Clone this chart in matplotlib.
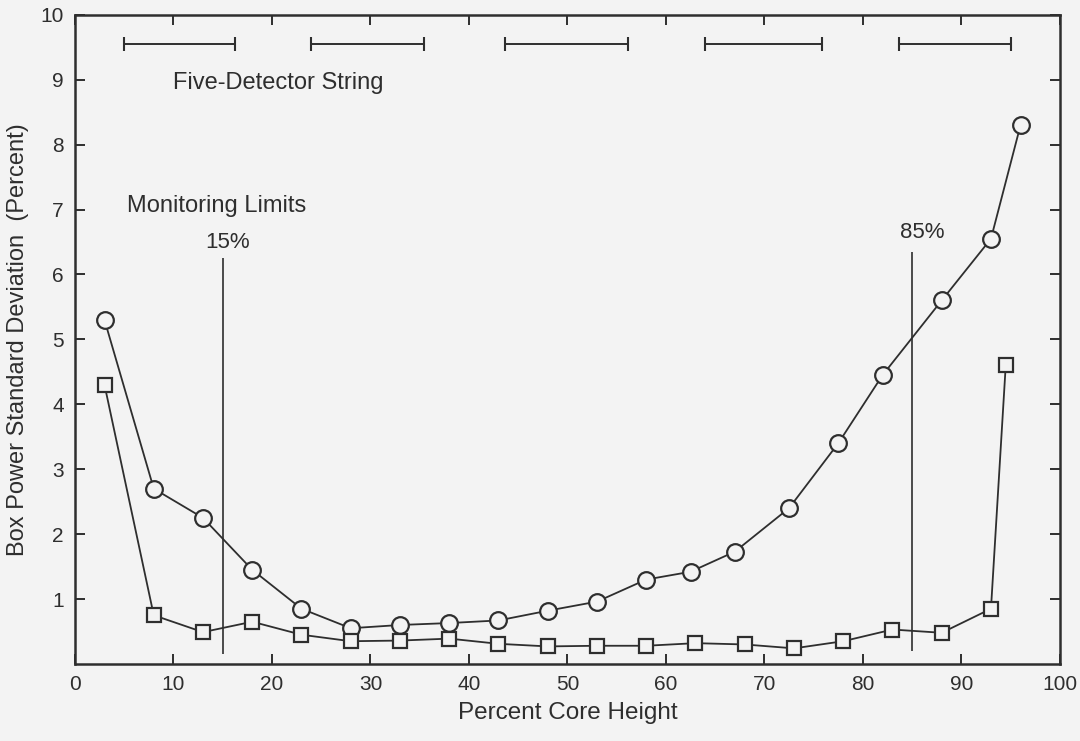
import numpy as np
import matplotlib.pyplot as plt

# core height positions (percent) and box power std dev (percent)
x_circ = [3, 8, 13, 18, 23, 28, 33, 38, 43, 48, 53, 58, 62.5, 67, 72.5, 77.5, 82, 88, 93, 96]
y_circ = [5.3, 2.7, 2.25, 1.45, 0.85, 0.55, 0.6, 0.63, 0.67, 0.82, 0.96, 1.3, 1.42, 1.73, 2.4, 3.4, 4.45, 5.6, 6.55, 8.3]

x_sq = [3, 8, 13, 18, 23, 28, 33, 38, 43, 48, 53, 58, 63, 68, 73, 78, 83, 88, 93, 94.5]
y_sq = [4.3, 0.75, 0.49, 0.65, 0.45, 0.35, 0.36, 0.39, 0.31, 0.27, 0.28, 0.28, 0.32, 0.30, 0.24, 0.35, 0.53, 0.48, 0.85, 4.6]

# axial spans covered by the five-detector string
string_start = [5, 24, 43.7, 64, 83.7]
string_end = [16.2, 35.4, 56.2, 75.8, 95]
string_y = 9.55

limits = [15, 85]
limit_labels = ['15%', '85%']

ink = '#2e2e2e'
bg = '#f3f3f3'

plt.rcParams['font.family'] = ['Liberation Sans', 'DejaVu Sans']

fig = plt.figure(figsize=(10.8, 7.41), dpi=100, facecolor=bg)
ax = fig.add_axes([0.0694, 0.104, 0.912, 0.876])
ax.set_facecolor(bg)

ax.plot(x_circ, y_circ, color=ink, lw=1.3, marker='o', ms=12,
        mfc=bg, mec=ink, mew=1.6, zorder=3)
ax.plot(x_sq, y_sq, color=ink, lw=1.3, marker='s', ms=10.5,
        mfc=bg, mec=ink, mew=1.6, zorder=3)

for a, b in zip(string_start, string_end):
    ax.plot([a, b], [string_y, string_y], color=ink, lw=1.4,
            marker='|', ms=10, mew=1.5)

ax.vlines(limits[0], 0.15, 6.25, color=ink, lw=1.2)
ax.vlines(limits[1], 0.2, 6.35, color=ink, lw=1.2)

ax.text(14.4, 7.05, 'Monitoring Limits', fontsize=17, color=ink, ha='center', va='center')
ax.text(15.5, 6.5, limit_labels[0], fontsize=16, color=ink, ha='center', va='center')
ax.text(86, 6.65, limit_labels[1], fontsize=16, color=ink, ha='center', va='center')
ax.text(20.6, 8.95, 'Five-Detector String', fontsize=17, color=ink, ha='center', va='center')

ax.set_xlim(0, 100)
ax.set_ylim(0, 10)
ax.set_xticks(np.arange(0, 101, 10))
ax.set_yticks(np.arange(1, 11, 1))
ax.tick_params(direction='in', length=7, width=1.4, color=ink, labelcolor=ink,
               labelsize=15, top=True, right=True, pad=8)
for s in ax.spines.values():
    s.set_color(ink)
    s.set_linewidth(1.8)

ax.set_xlabel('Percent Core Height', fontsize=17.5, color=ink, labelpad=6)
ax.set_ylabel('Box Power Standard Deviation  (Percent)', fontsize=17, color=ink, labelpad=8)

fig.savefig('out.png', dpi=100, facecolor=bg)
